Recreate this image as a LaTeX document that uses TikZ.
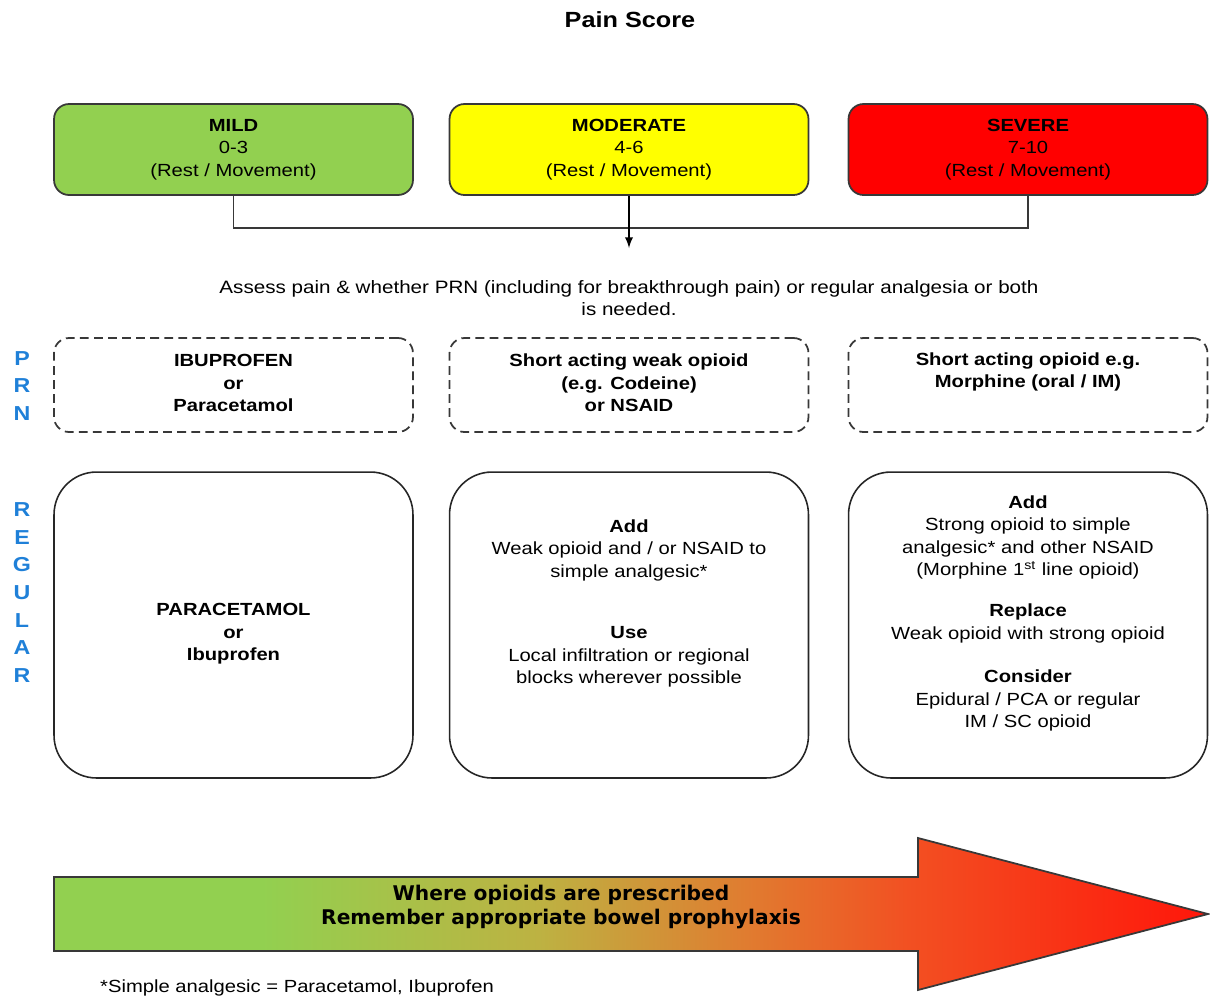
\documentclass[tikz,border=0pt]{standalone}
\usepackage{fontspec}
\setmainfont{Liberation Sans}[FakeStretch=1.15]
\newfontfamily\arrowfont{DejaVu Sans}
\usepackage{xcolor}
\usepackage{tikz}

\definecolor{mildgreen}{HTML}{92D050}
\definecolor{modyellow}{HTML}{FFFF00}
\definecolor{sevred}{HTML}{FF0000}
\definecolor{sideblue}{HTML}{1F80D8}
\definecolor{rimgray}{HTML}{383838}
\definecolor{rampA}{HTML}{BDB242}
\definecolor{rampB}{HTML}{E07C30}
\definecolor{rampC}{HTML}{F25022}
\definecolor{rampD}{HTML}{FF160A}
\pgfdeclarehorizontalshading{painramp}{100bp}{color(0bp)=(mildgreen); color(25bp)=(mildgreen); color(34bp)=(mildgreen); color(46bp)=(rampA); color(55bp)=(rampB); color(62bp)=(rampC); color(75bp)=(rampD); color(100bp)=(rampD)}

\begin{document}
\begin{tikzpicture}[x=0.02cm, y=-0.02cm,
  scorebox/.style={draw=rimgray, line width=1pt, rounded corners=0.3cm, minimum width=7.18cm, minimum height=1.82cm, align=center, font=\fontsize{10}{12.8}\selectfont},
  prnbox/.style={draw=rimgray, dash pattern=on 5pt off 3pt, line width=1pt, rounded corners=0.3cm, minimum width=7.18cm, minimum height=1.88cm},
  regbox/.style={draw=black!85, line width=0.9pt, rounded corners=0.85cm, minimum width=7.18cm, minimum height=6.12cm},
  boxtext/.style={align=center, font=\fontsize{10}{12.8}\selectfont},
  sidetext/.style={align=center, text=sideblue, font=\bfseries\fontsize{11.5}{15.7}\selectfont}]

\useasboundingbox (0,0) rectangle (1210,1002);

\node[font=\bfseries\fontsize{12.5}{15}\selectfont] (title) at (630,20) {Pain Score};

\node[scorebox, fill=mildgreen] (mild) at (233.5,149.5) {\textbf{MILD}\\0-3\\(Rest / Movement)};
\node[scorebox, fill=modyellow] (moderate) at (629,149.5) {\textbf{MODERATE}\\4-6\\(Rest / Movement)};
\node[scorebox, fill=sevred] (severe) at (1028,149.5) {\textbf{SEVERE}\\7-10\\(Rest / Movement)};

\coordinate (join) at (629,228);
\coordinate (assesstop) at (629,248);
\draw[rimgray, line width=1.1pt] (mild.south) |- (join) -| (severe.south);
\draw[-latex, line width=1.1pt] (moderate.south) -- (assesstop);

\node[boxtext, font=\fontsize{10.2}{12.8}\selectfont] (assess) at (629,298) {Assess pain \& whether PRN (including for breakthrough pain) or regular analgesia or both\\is needed.};

\node[sidetext] (prnlabel) at (22,386) {P\\R\\N};
\node[sidetext] (reglabel) at (22,592.5) {R\\E\\G\\U\\L\\A\\R};

\node[prnbox] (prnmild) at (233.5,385) {};
\node[prnbox] (prnmod) at (629,385) {};
\node[prnbox] (prnsev) at (1028,385) {};
\node[boxtext, font=\bfseries\fontsize{10}{12.8}\selectfont] (prnmildtxt) at (233.5,383) {IBUPROFEN\\or\\Paracetamol};
\node[boxtext, font=\bfseries\fontsize{10}{12.8}\selectfont] (prnmodtxt) at (629,383) {Short acting weak opioid\\(e.g. Codeine)\\or NSAID};
\node[boxtext, font=\bfseries\fontsize{10}{12.8}\selectfont] (prnsevtxt) at (1028,372) {Short acting opioid e.g.\\Morphine (oral / IM)};

\node[regbox] (regmild) at (233.5,625) {};
\node[regbox] (regmod) at (629,625) {};
\node[regbox] (regsev) at (1028,625) {};
\node[boxtext] (regmildtxt) at (233.5,634) {\textbf{PARACETAMOL}\\\textbf{or}\\\textbf{Ibuprofen}};
\node[boxtext] (regmodtxt) at (629,603.5) {\textbf{Add}\\Weak opioid and / or NSAID to\\simple analgesic*\\[22pt]\textbf{Use}\\Local infiltration or regional\\blocks wherever possible};
\node[boxtext] (regsevtxt) at (1028,613.5) {\textbf{Add}\\Strong opioid to simple\\analgesic* and other NSAID\\(Morphine 1\textsuperscript{st} line opioid)\\[10.5pt]\textbf{Replace}\\Weak opioid with strong opioid\\[12pt]\textbf{Consider}\\Epidural / PCA or regular\\IM / SC opioid};

\path[draw=rimgray, line width=1pt, shading=painramp] (54,877) -- (918,877) -- (918,838) -- (1208,914) -- (918,990) -- (918,951) -- (54,951) -- cycle;
\node[align=center, font=\arrowfont\bfseries\fontsize{11.5}{14}\selectfont] (bowel) at (561,907) {Where opioids are prescribed\\Remember appropriate bowel prophylaxis};

\node[boxtext, anchor=west] (footnote) at (94,988) {*Simple analgesic = Paracetamol, Ibuprofen};
\end{tikzpicture}
\end{document}
